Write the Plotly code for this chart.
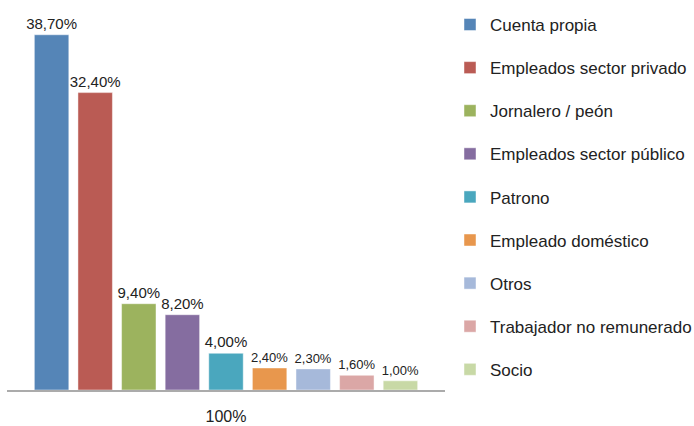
import plotly.graph_objects as go

# Distribution by occupational category (single group, one series per category)
category = ["100%"]
series_names = [
    "Cuenta propia",
    "Empleados sector privado",
    "Jornalero / peón",
    "Empleados sector público",
    "Patrono",
    "Empleado doméstico",
    "Otros",
    "Trabajador no remunerado",
    "Socio",
]
series_values = [38.7, 32.4, 9.4, 8.2, 4.0, 2.4, 2.3, 1.6, 1.0]
value_labels = ["38,70%", "32,40%", "9,40%", "8,20%", "4,00%", "2,40%", "2,30%", "1,60%", "1,00%"]
label_sizes = [15, 15, 15, 15, 15, 13, 13, 13, 13]
colors = [
    "#5585B7", "#BA5B54", "#9CB35E", "#856DA0", "#4AA7BE",
    "#E8974D", "#A6B9DA", "#DBA7A6", "#C8D9A6",
]

FONT = "Liberation Sans, Arial, Helvetica, sans-serif"

fig = go.Figure()
for i, (name, val, lab, col) in enumerate(zip(series_names, series_values, value_labels, colors)):
    fig.add_trace(go.Bar(
        x=category,
        y=[val],
        name=name,
        legendgroup=f"g{i}",
        marker=dict(color=col, line=dict(color="rgba(255,255,255,0.45)", width=1)),
        text=[lab],
        textposition="outside",
        constraintext="none",
        textfont=dict(family=FONT, size=label_sizes[i], color="#222222"),
        cliponaxis=False,
        hoverinfo="skip",
    ))

fig.update_layout(
    width=694,
    height=426,
    margin=dict(l=7, r=249, t=10, b=36, autoexpand=False),
    paper_bgcolor="white",
    plot_bgcolor="white",
    barmode="group",
    bargap=0.104,
    bargroupgap=0.21,
    font=dict(family=FONT, color="#222222"),
    showlegend=True,
    legend=dict(
        x=1.0 + 5 / 438,
        xref="paper",
        xanchor="left",
        y=1.008,
        yanchor="top",
        font=dict(family=FONT, size=17, color="#222222"),
        tracegroupgap=18,
        itemwidth=30,
        maxheight=426,
        bgcolor="rgba(0,0,0,0)",
    ),
    xaxis=dict(
        showline=True,
        linecolor="#ABABAB",
        linewidth=1.5,
        showgrid=False,
        ticks="",
        automargin=False,
        tickfont=dict(family=FONT, size=16, color="#222222"),
        ticklabelstandoff=11,
    ),
    yaxis=dict(
        range=[0, 41.4],
        visible=False,
        showgrid=False,
        zeroline=False,
        automargin=False,
    ),
)

fig.write_html("out.html")
